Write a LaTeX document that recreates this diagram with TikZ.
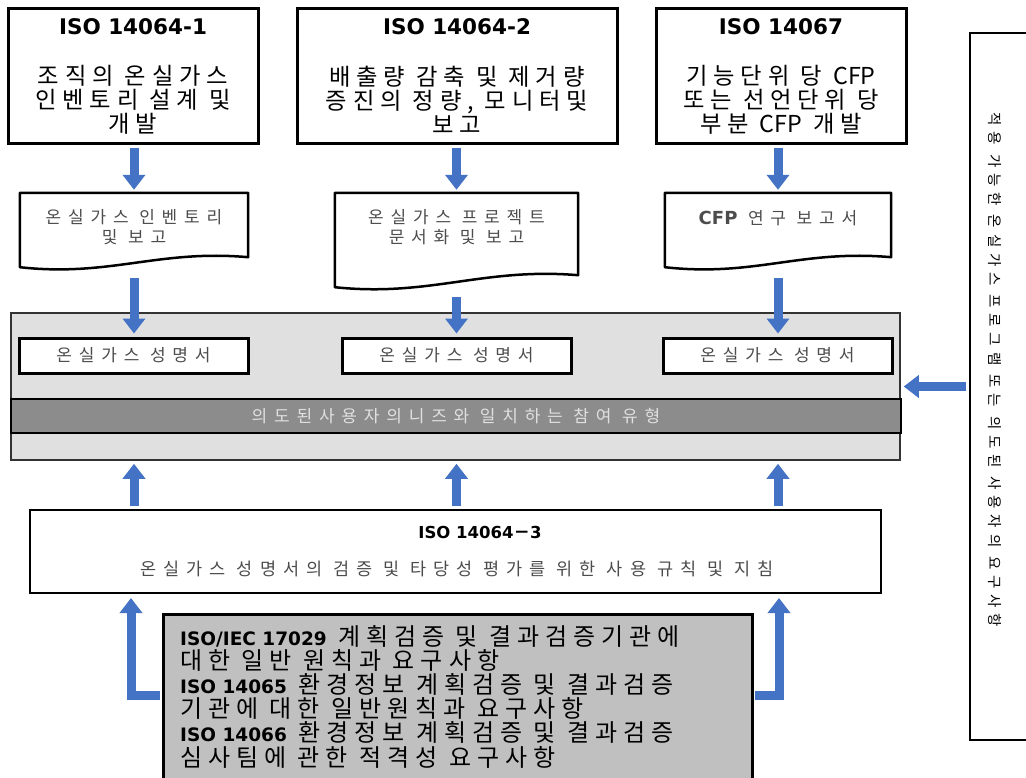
\documentclass[tikz,border=0pt]{standalone}
\usepackage{fontspec}
\setmainfont{Noto Sans CJK KR}
\newfontfamily\krs{Noto Sans CJK KR}[LetterSpace=25]
\newfontfamily\krw{Noto Sans CJK KR}[LetterSpace=40]
\newfontfamily\latb{DejaVu Sans}
\usetikzlibrary{arrows.meta,positioning}
\definecolor{arrowblue}{HTML}{4472C4}
\definecolor{panelgray}{HTML}{E0E0E0}
\definecolor{bandgray}{HTML}{8C8C8C}
\definecolor{botgray}{HTML}{C0C0C0}
\newcommand{\stdname}[1]{{\latb\bfseries\fontsize{18.5}{24.2}\selectfont #1}}
\newcommand{\plaincfp}{{\normalfont CFP}}

\begin{document}
\begin{tikzpicture}[x=1pt, y=-1pt,
  stdbox/.style={draw, line width=3pt, inner sep=0pt, minimum height=135pt},
  titletxt/.style={font=\latb\bfseries\fontsize{21.5}{24}\selectfont, anchor=base, inner sep=0pt},
  bodytxt/.style={font=\krs\fontsize{23.3}{24}\selectfont, align=center, inner sep=0pt},
  doctxt/.style={font=\krw\fontsize{17}{20}\selectfont, text=black!70, align=center, minimum height=69pt, inner sep=0pt},
  docline/.style={line width=2.5pt, line join=round},
  stmtbox/.style={draw, line width=3pt, fill=white, minimum width=229pt, minimum height=35pt, inner sep=0pt, font=\krw\fontsize{17}{20}\selectfont, text=black!70},
  barrow/.style={draw=arrowblue, line width=9pt, -{Triangle[width=22pt,length=15pt]}, shorten <=3pt, shorten >=3pt}]

\useasboundingbox (0,0) rectangle (1026,777);

% Top standards
\node[stdbox, minimum width=250pt] (iso641) at (133,75.5) {};
\node[titletxt] (iso641t) at (133,34) {ISO 14064-1};
\node[bodytxt] (iso641b) at (133,100) {조직의 온실가스\\인벤토리 설계 및\\개발};

\node[stdbox, minimum width=320pt] (iso642) at (457,75.5) {};
\node[titletxt] (iso642t) at (457,34) {ISO 14064-2};
\node[bodytxt] (iso642b) at (457,100) {배출량 감축 및 제거량\\증진의 정량, 모니터및\\보고};

\node[stdbox, minimum width=250pt] (iso67) at (781,75.5) {};
\node[titletxt] (iso67t) at (781,34) {ISO 14067};
\node[bodytxt] (iso67b) at (781,100) {기능단위 당 \plaincfp\\또는 선언단위 당\\부분 \plaincfp{} 개발};

% Reports (document shapes)
\node[doctxt, minimum width=228pt] (doc1) at (134,227.5) {온실가스 인벤토리\\및 보고};
\draw[docline] ([yshift=-5pt]doc1.south west) -- (doc1.north west) -- (doc1.north east) -- ([yshift=5pt]doc1.south east)
  .. controls +(-90,-8) and +(90,10) .. ([yshift=-5pt]doc1.south west) -- cycle;

\node[doctxt, minimum width=243pt] (doc2) at (456.5,227.5) {온실가스 프로젝트\\문서화 및 보고};
\draw[docline] ([yshift=-25pt]doc2.south west) -- (doc2.north west) -- (doc2.north east) -- ([yshift=-13pt]doc2.south east)
  .. controls +(-95,-8) and +(95,10) .. ([yshift=-25pt]doc2.south west) -- cycle;

\node[doctxt, minimum width=226pt, text depth=20pt] (doc3) at (778,227.5) {{\latb\bfseries\fontsize{18}{20}\selectfont CFP} 연구 보고서};
\draw[docline] ([yshift=-5pt]doc3.south west) -- (doc3.north west) -- (doc3.north east) -- ([yshift=5pt]doc3.south east)
  .. controls +(-90,-8) and +(90,10) .. ([yshift=-5pt]doc3.south west) -- cycle;

% Statement panel
\node[draw=black!80, line width=1.5pt, fill=panelgray, minimum width=889pt, minimum height=147pt] (panel) at (455.5,386.5) {};
\node[draw, line width=2.5pt, fill=bandgray, minimum width=890pt, minimum height=34pt, inner sep=0pt,
  text=white!88!black, font=\krw\fontsize{17}{20}\selectfont] (band) at (456,416) {의도된사용자의니즈와 일치하는 참여 유형};
\node[stmtbox] (stmt1) at (133.5,355.5) {온실가스 성명서};
\node[stmtbox] (stmt2) at (456.5,355.5) {온실가스 성명서};
\node[stmtbox] (stmt3) at (777.5,355.5) {온실가스 성명서};

% Down arrows
\draw[barrow] (iso641.south -| doc1.north) -- (doc1.north);
\draw[barrow] (iso642.south -| doc2.north) -- (doc2.north);
\draw[barrow] (iso67.south -| doc3.north) -- (doc3.north);
\draw[barrow, shorten <=16pt] (doc1.south) -- (doc1.south |- stmt1.north);
\draw[barrow, shorten <=35pt] (doc2.south) -- (doc2.south |- stmt2.north);
\draw[barrow, shorten <=16pt] (doc3.south) -- (doc3.south |- stmt3.north);

% ISO 14064-3
\node[draw, line width=2pt, minimum width=851pt, minimum height=83pt] (iso643) at (455.5,551.5) {};
\node[titletxt, font=\latb\bfseries\fontsize{16.5}{19}\selectfont] (iso643t) at (480,538) {ISO 14064{\normalfont\bfseries －}3};
\node[bodytxt, font=\krw\fontsize{17.5}{20}\selectfont, text=black!70] (iso643b) at (457,569) {온실가스 성명서의 검증 및 타당성 평가를 위한 사용 규칙 및 지침};

% Up arrows
\draw[barrow] (iso643.north -| doc1.south) -- (panel.south -| doc1.south);
\draw[barrow] (iso643.north -| doc2.south) -- (panel.south -| doc2.south);
\draw[barrow] (iso643.north -| doc3.south) -- (panel.south -| doc3.south);

% Accreditation standards
\coordinate (lbend) at (131,695);
\coordinate (rbend) at (779,695);
\node[draw, line width=3pt, fill=botgray, minimum width=589pt, minimum height=176pt] (botbox) at (457.5,702) {};
\node[anchor=west, align=left, inner sep=0pt, font=\krs\fontsize{24}{24.2}\selectfont] (bottxt) at (180,696.5)
  {\stdname{ISO/IEC 17029} 계획검증 및 결과검증기관에\\대한 일반 원칙과 요구사항\\\stdname{ISO 14065} 환경정보 계획검증 및 결과검증\\기관에 대한 일반원칙과 요구사항\\\stdname{ISO 14066} 환경정보 계획검증 및 결과검증\\심사팀에 관한 적격성 요구사항};
\draw[barrow, shorten <=1.5pt, shorten >=4pt] (botbox.west |- lbend) -| (lbend |- iso643.south);
\draw[barrow, shorten <=1.5pt, shorten >=4pt] (botbox.east |- rbend) -| (rbend |- iso643.south);

% Programme requirements
\node[draw, line width=2.5pt, minimum width=75pt, minimum height=707pt] (req) at (1007.5,386.5) {};
\node[rotate=-90, inner sep=0pt, font=\krw\fontsize{14.5}{18}\selectfont] (reqt) at (995,370) {적용 가능한 온실가스 프로그램 또는 의도된 사용자의 요구사항};
\draw[barrow] (req.west |- panel.east) -- (panel.east);

\end{tikzpicture}
\end{document}
